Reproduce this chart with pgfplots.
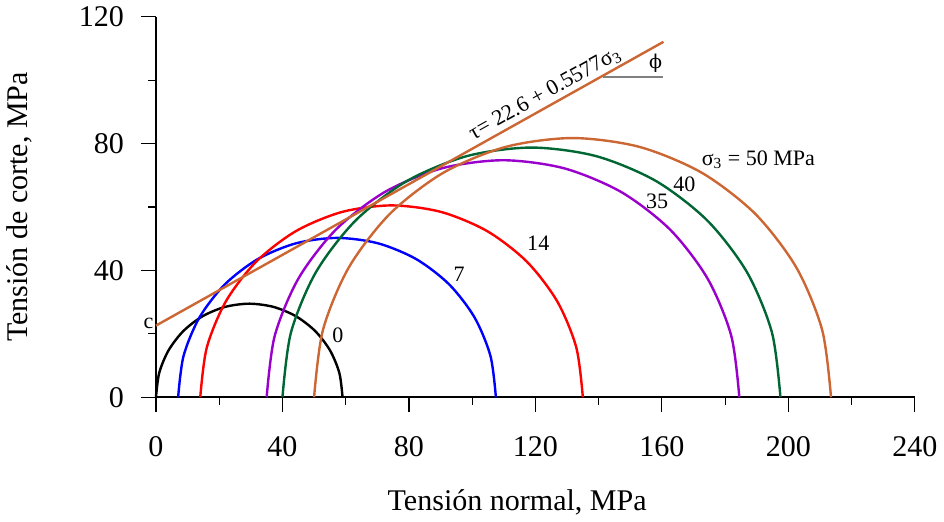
\documentclass[border=0pt]{standalone}
\usepackage{fontspec}
\setmainfont{Liberation Serif}
\newfontfamily\phifont{DejaVu Serif}
\usepackage{pgfplots}
\pgfplotsset{compat=1.18}

\definecolor{cpurple}{RGB}{153,0,204}
\definecolor{cgreen}{RGB}{0,102,51}
\definecolor{corange}{RGB}{204,102,51}

\begin{document}
\begin{tikzpicture}
\begin{axis}[
    width=379pt, height=190pt, scale only axis,
    xmin=0, xmax=240, ymin=0, ymax=120,
    axis lines=left,
    axis line style={-, line width=0.75pt},
    xtick={0,40,...,240}, ytick={0,40,...,120},
    minor tick num=1,
    tick align=outside,
    major tick length=7.5pt, minor tick length=3.75pt,
    every tick/.style={black, line width=0.6pt},
    /pgf/number format/assume math mode=true,
    tick label style={font=\rmfamily\fontsize{15}{18}\selectfont},
    xticklabel style={yshift=-8.5pt},
    yticklabel style={xshift=-5pt},
    label style={font=\rmfamily\fontsize{15}{18}\selectfont},
    xlabel={Tensión normal, MPa},
    ylabel={Tensión de corte, MPa},
    xlabel style={at={(axis description cs:0.476,-0.276)}, anchor=center},
    ylabel style={at={(axis description cs:-0.18,0.5)}, anchor=center},
    clip=false,
    every axis plot/.append style={line width=1.2pt, mark=none},
]
% sigma3 = 0, sigma1 = 59
\addplot[black, smooth] coordinates {
 (0,0) (1.01,7.64) (3.95,14.75) (8.64,20.86) (14.75,25.55) (21.86,28.49) (29.5,29.5)
 (37.14,28.49) (44.25,25.55) (50.36,20.86) (55.05,14.75) (57.99,7.64) (59,0)};
% sigma3 = 7, sigma1 = 107.5
\addplot[blue, smooth] coordinates {
 (7,0) (8.71,13.00) (13.73,25.13) (21.72,35.53) (32.12,43.52) (44.25,48.54) (57.25,50.25)
 (70.25,48.54) (82.38,43.52) (92.78,35.53) (100.77,25.13) (105.79,13.00) (107.5,0)};
% sigma3 = 14, sigma1 = 135
\addplot[red, smooth] coordinates {
 (14,0) (16.06,15.66) (22.11,30.25) (31.72,42.78) (44.25,52.39) (58.84,58.44) (74.5,60.5)
 (90.16,58.44) (104.75,52.39) (117.28,42.78) (126.89,30.25) (132.94,15.66) (135,0)};
% sigma3 = 35, sigma1 = 184.5
\addplot[cpurple, smooth] coordinates {
 (35,0) (37.55,19.35) (45.02,37.38) (56.89,52.86) (72.37,64.73) (90.40,72.20) (109.75,74.75)
 (129.10,72.20) (147.13,64.73) (162.61,52.86) (174.48,37.38) (181.95,19.35) (184.5,0)};
% sigma3 = 40, sigma1 = 197.5
\addplot[cgreen, smooth] coordinates {
 (40,0) (42.68,20.38) (50.55,39.38) (63.07,55.68) (79.37,68.20) (98.37,76.07) (118.75,78.75)
 (139.13,76.07) (158.13,68.20) (174.43,55.68) (186.95,39.38) (194.82,20.38) (197.5,0)};
% sigma3 = 50, sigma1 = 213.5
\addplot[corange, smooth] coordinates {
 (50,0) (52.79,21.16) (60.95,40.88) (73.94,57.81) (90.87,70.80) (110.59,78.96) (131.75,81.75)
 (152.91,78.96) (172.63,70.80) (189.56,57.81) (202.55,40.88) (210.71,21.16) (213.5,0)};
% envolvente
\addplot[corange] coordinates {(0,22.6) (160.5,112.1)};
\addplot[gray, line width=0.8pt] coordinates {(141.5,101) (160.5,101)};

\node[font=\rmfamily\fontsize{11}{13}\selectfont, rotate=29.15, anchor=south, inner sep=1.5pt]
  at (axis cs:125,92.3) {τ= 22.6 + 0.5577σ\textsubscript{3}};
\node[font=\phifont\fontsize{9.5}{11}\selectfont] at (axis cs:158,105.5) {ϕ};
\node[font=\rmfamily\fontsize{11}{13}\selectfont] at (axis cs:-2.4,23.4) {c};
\node[font=\rmfamily\fontsize{11}{13}\selectfont] at (axis cs:57.5,19.6) {0};
\node[font=\rmfamily\fontsize{11}{13}\selectfont] at (axis cs:95.9,38.8) {7};
\node[font=\rmfamily\fontsize{11}{13}\selectfont] at (axis cs:120.9,48.6) {14};
\node[font=\rmfamily\fontsize{11}{13}\selectfont] at (axis cs:158.5,61.9) {35};
\node[font=\rmfamily\fontsize{11}{13}\selectfont] at (axis cs:167.1,67.3) {40};
\node[font=\rmfamily\fontsize{11}{13}\selectfont, anchor=west, inner sep=0pt] at (axis cs:172.5,74.8) {σ\textsubscript{3} = 50 MPa};
\path (axis cs:240,0) ++(10pt,0);
\end{axis}
\end{tikzpicture}
\end{document}
